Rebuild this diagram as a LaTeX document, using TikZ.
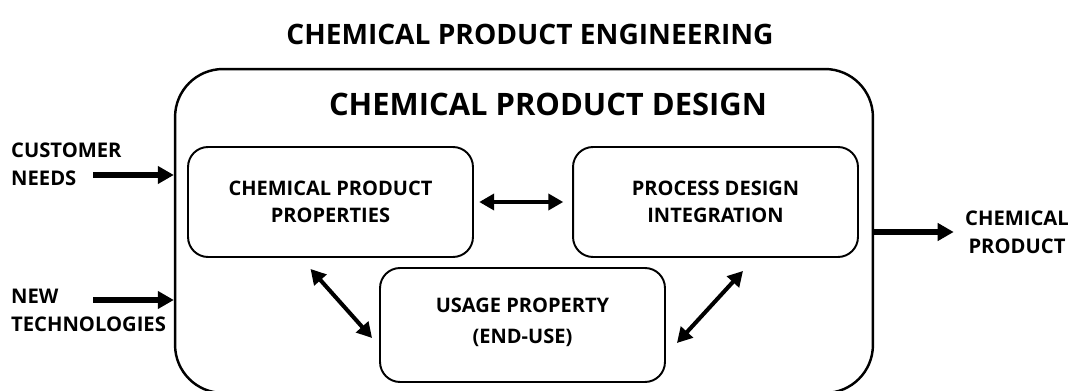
\documentclass[tikz,border=0pt]{standalone}
\usepackage{fontspec}
\setmainfont{Open Sans}
\usetikzlibrary{arrows.meta}

\begin{document}
\begin{tikzpicture}[
    x=0.02cm, y=-0.02cm,
    % Style for the inner rounded boxes
    partbox/.style={
        draw, line width=1.1pt, rounded corners=0.4cm,
        minimum width=5.7cm, minimum height=2.2cm, align=center,
        font=\bfseries\fontsize{11.4}{15.5}\selectfont
    },
    sidetext/.style={align=center, font=\bfseries\fontsize{11.5}{16}\selectfont},
    flow/.style={-{Triangle[length=3.2mm, width=3.4mm]}, line width=2.9pt},
    link/.style={{Triangle[length=3mm, width=3.2mm]}-{Triangle[length=3mm, width=3.2mm]},
        line width=2.3pt}
]
\useasboundingbox (0,0) rectangle (1072,391);
\clip (0,0) rectangle (1072,391);

% --- Titles ---
\node[font=\bfseries\fontsize{16}{19}\selectfont] (title) at (530,34) {CHEMICAL PRODUCT ENGINEERING};

% --- Outer design frame (runs off the bottom edge) ---
\node[draw, line width=1.4pt, rounded corners=0.96cm,
      minimum width=13.96cm, minimum height=6.48cm] (design) at (524,231) {};
\node[font=\bfseries\fontsize{17.6}{21}\selectfont] (designtitle) at (548,104) {CHEMICAL PRODUCT DESIGN};

% --- Inner boxes ---
\node[partbox] (props) at (330.5,202) {CHEMICAL PRODUCT\\PROPERTIES};
\node[partbox] (process) at (715.5,202) {PROCESS DESIGN\\INTEGRATION};
\node[partbox, minimum height=2.28cm, font=\bfseries\fontsize{11.4}{18}\selectfont]
    (usage) at (522.5,325) {USAGE PROPERTY\\(END-USE)\\[-13pt]};

% --- Links between the boxes ---
\draw[link, shorten <=3pt, shorten >=5pt] (props.east) -- (process.west);
\draw[link] ([shift={(-20,11)}]props.south) -- ([shift={(-7,13)}]usage.west);
\draw[link] ([shift={(27.5,13)}]process.south) -- ([shift={(11,18)}]usage.east);

% --- Inputs ---
\node[sidetext, align=left, anchor=west] (needs) at (5,164) {CUSTOMER\\NEEDS};
\node[sidetext, align=left, anchor=west] (tech) at (5,310) {NEW\\TECHNOLOGIES};
\coordinate (needsin) at (93,175);
\coordinate (techin) at (93,300);
\draw[flow] (needsin) -- (needsin -| design.west);
\draw[flow] (techin) -- (techin -| design.west);

% --- Output ---
\node[sidetext] (product) at (1017,232) {CHEMICAL\\PRODUCT};
\draw[flow, shorten >=3pt] (design.east |- product.west) -- (product.west);

\end{tikzpicture}
\end{document}
